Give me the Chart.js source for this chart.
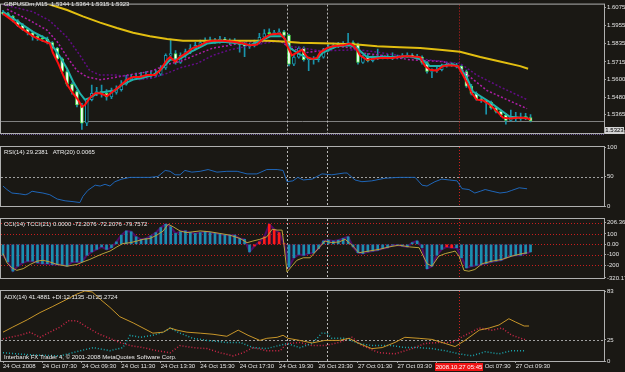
<!DOCTYPE html>
<html><head><meta charset="utf-8">
<script src="https://cdn.jsdelivr.net/npm/chart.js@4"></script>
<style>
html,body{margin:0;padding:0;background:#1a1814;width:625px;height:372px;overflow:hidden;position:relative}
canvas{position:absolute;left:0;top:0}
.t{position:absolute;color:#ececec;font:6px "Liberation Sans",Arial,sans-serif;line-height:7px;white-space:pre}
</style></head><body>
<canvas id="cMain" width="625" height="372"></canvas>
<canvas id="cRsi" width="625" height="372"></canvas>
<canvas id="cCci" width="625" height="372"></canvas>
<canvas id="cAdx" width="625" height="372"></canvas>
<div class="t" style="left:4px;top:1px">GBPUSDm,M15  1.5344 1.5364 1.5315 1.5323</div>
<div class="t" style="left:4px;top:149px">RSI(14) 29.2381   ATR(20) 0.0065</div>
<div class="t" style="left:4px;top:221px">CCI(14) TCCI(21) 0.0000 -72.2076 -72.2076 -79.7572</div>
<div class="t" style="left:4px;top:294px">ADX(14) 41.4881 +DI:12.1135 -DI:25.2724</div>
<div class="t" style="left:4px;top:354px">Interbank FX Trader 4, © 2001-2008 MetaQuotes Software Corp.</div>
<div class="t" style="left:605px;top:127px;width:19px;height:7px;background:#d4d4d4;color:#000;text-align:center">1.5323</div>
<div class="t" style="left:435px;top:363px;width:48px;height:8px;background:#f01414;color:#fff;text-align:center;line-height:8px">2008.10.27 05:45</div>
<script>
// ---------- x axis (bar index) ----------
const tickBars = [0,8,16,24,32,40,48,56,64,72,80,88,96,104];
const tickLabels = ['24 Oct 2008','24 Oct 07:30','24 Oct 09:30','24 Oct 11:30','24 Oct 13:30','24 Oct 15:30','24 Oct 17:30','24 Oct 19:30','26 Oct 23:30','27 Oct 01:30','27 Oct 03:30','27 Oct 05:30','27 Oct 07:30','27 Oct 09:30'];
const daySeparators = [57.6, 65.7];
const cursorBar = [92.5];

// ---------- candles GBPUSD M15 ----------
const openP = [1.6045,1.6036,1.6018,1.5988,1.5958,1.5933,1.5909,1.5885,1.5867,1.5867,
1.5843,1.5807,1.5735,1.5651,1.5566,1.5518,1.5428,1.5308,1.5464,1.5506,
1.5518,1.5506,1.5482,1.5512,1.5530,1.5566,1.5597,1.5609,1.5621,1.5615,
1.5627,1.5627,1.5633,1.5675,1.5759,1.5771,1.5711,1.5759,1.5783,1.5807,
1.5825,1.5843,1.5855,1.5861,1.5849,1.5867,1.5855,1.5843,1.5849,1.5831,
1.5819,1.5825,1.5843,1.5879,1.5903,1.5903,1.5909,1.5915,1.5891,1.5699,
1.5747,1.5807,1.5729,1.5735,1.5729,1.5747,1.5795,1.5813,1.5825,1.5825,
1.5831,1.5843,1.5831,1.5711,1.5747,1.5723,1.5741,1.5741,1.5747,1.5747,
1.5741,1.5747,1.5753,1.5759,1.5753,1.5747,1.5711,1.5651,1.5657,1.5663,
1.5687,1.5699,1.5693,1.5687,1.5651,1.5554,1.5506,1.5470,1.5458,1.5446,
1.5410,1.5386,1.5362,1.5326,1.5350,1.5338,1.5344,1.5344];
const highP = [1.6058,1.6044,1.6025,1.5996,1.5970,1.5940,1.5915,1.5898,1.5890,1.5880,
1.5850,1.5812,1.5742,1.5660,1.5575,1.5525,1.5440,1.5470,1.5560,1.5545,
1.5560,1.5530,1.5540,1.5555,1.5590,1.5625,1.5630,1.5640,1.5645,1.5650,
1.5655,1.5660,1.5690,1.5768,1.5867,1.5790,1.5775,1.5800,1.5830,1.5845,
1.5860,1.5875,1.5880,1.5872,1.5885,1.5878,1.5868,1.5870,1.5858,1.5845,
1.5840,1.5860,1.5905,1.5930,1.5935,1.5925,1.5935,1.5925,1.5900,1.5760,
1.5815,1.5815,1.5745,1.5750,1.5760,1.5805,1.5830,1.5840,1.5845,1.5850,
1.5905,1.5855,1.5840,1.5760,1.5770,1.5755,1.5800,1.5760,1.5765,1.5775,
1.5760,1.5770,1.5775,1.5770,1.5765,1.5755,1.5718,1.5668,1.5680,1.5700,
1.5712,1.5710,1.5705,1.5695,1.5660,1.5565,1.5515,1.5480,1.5465,1.5455,
1.5420,1.5395,1.5372,1.5395,1.5380,1.5375,1.5372,1.5364];
const lowP = [1.6028,1.6010,1.5980,1.5950,1.5925,1.5895,1.5860,1.5858,1.5850,1.5835,
1.5795,1.5725,1.5640,1.5555,1.5500,1.5415,1.5266,1.5290,1.5455,1.5490,
1.5480,1.5460,1.5470,1.5500,1.5520,1.5560,1.5590,1.5598,1.5600,1.5610,
1.5605,1.5615,1.5625,1.5665,1.5745,1.5700,1.5705,1.5745,1.5770,1.5795,
1.5815,1.5835,1.5845,1.5838,1.5840,1.5845,1.5830,1.5835,1.5780,1.5750,
1.5805,1.5815,1.5835,1.5870,1.5890,1.5895,1.5900,1.5880,1.5688,1.5690,
1.5740,1.5720,1.5657,1.5700,1.5715,1.5740,1.5785,1.5805,1.5810,1.5815,
1.5825,1.5820,1.5700,1.5705,1.5715,1.5715,1.5730,1.5735,1.5735,1.5730,
1.5735,1.5740,1.5745,1.5742,1.5735,1.5700,1.5640,1.5610,1.5645,1.5655,
1.5680,1.5685,1.5675,1.5640,1.5545,1.5495,1.5460,1.5445,1.5368,1.5400,
1.5375,1.5350,1.5300,1.5320,1.5318,1.5325,1.5330,1.5315];
const closeP = [1.6036,1.6018,1.5988,1.5958,1.5933,1.5909,1.5885,1.5867,1.5867,1.5843,
1.5807,1.5735,1.5651,1.5566,1.5518,1.5428,1.5308,1.5464,1.5506,1.5518,
1.5506,1.5482,1.5512,1.5530,1.5566,1.5597,1.5609,1.5621,1.5615,1.5627,
1.5627,1.5633,1.5675,1.5759,1.5771,1.5711,1.5759,1.5783,1.5807,1.5825,
1.5843,1.5855,1.5861,1.5849,1.5867,1.5855,1.5843,1.5849,1.5831,1.5819,
1.5825,1.5843,1.5879,1.5903,1.5903,1.5909,1.5915,1.5891,1.5699,1.5747,
1.5807,1.5729,1.5735,1.5729,1.5747,1.5795,1.5813,1.5825,1.5825,1.5831,
1.5843,1.5831,1.5711,1.5747,1.5723,1.5741,1.5741,1.5747,1.5747,1.5741,
1.5747,1.5753,1.5759,1.5753,1.5747,1.5711,1.5651,1.5657,1.5663,1.5687,
1.5699,1.5693,1.5687,1.5651,1.5554,1.5506,1.5470,1.5458,1.5446,1.5410,
1.5386,1.5362,1.5326,1.5350,1.5338,1.5344,1.5344,1.5323];
const bidPrice = [1.5323];
const priceTicks = [1.6075,1.5955,1.5835,1.5715,1.5600,1.5480,1.5365,1.5246];

// ---------- moving averages on price ----------
const fastMaBars = [0,2,3.4,6.1,8.1,9.5,10.1,11.2,12.2,13.2,14.2,15.2,16,16.6,17.6,18.7,19.7,21.1,22.3,23.7,25.2,26.4,27.8,29.2,30.8,31.8,33.3,33.9,34.9,35.9,37.3,38.5,40,41.4,42.6,44.6,46.7,48.7,50.1,51.5,52.7,54.2,56.2,57.2,57.6,58.6,59.6,60.6,61.7,62.7,63.7,64.3,65.7,66.9,69,70.4,71,71.8,72.4,73.8,75.1,76.5,79.1,81.1,82.6,84.6,85.6,86.6,88,89.2,90.7,92.3,93.1,94.1,95.1,96.1,97.4,98.8,100.2,101.4,102.8,104.3,105.5,106.5,107];
const fastMaValues = [1.6036,1.5988,1.5946,1.5885,1.5855,1.5837,1.5777,1.5705,1.5627,1.5554,1.5506,1.5464,1.5416,1.5428,1.5476,1.5506,1.5506,1.5488,1.5518,1.5554,1.5597,1.5615,1.5615,1.5627,1.5627,1.5657,1.5729,1.5747,1.5717,1.5747,1.5777,1.5807,1.5825,1.5849,1.5855,1.5855,1.5849,1.5837,1.5825,1.5831,1.5867,1.5897,1.5903,1.5867,1.5825,1.5759,1.5777,1.5795,1.5747,1.5735,1.5741,1.5777,1.5807,1.5819,1.5825,1.5837,1.5825,1.5795,1.5759,1.5729,1.5735,1.5741,1.5741,1.5753,1.5753,1.5747,1.5687,1.5663,1.5657,1.5687,1.5693,1.5687,1.5639,1.5578,1.5506,1.5464,1.5458,1.5428,1.5386,1.5344,1.5338,1.5344,1.5344,1.5338,1.5332];
const midMaBars = [0,2.8,6.1,8.9,10.1,11.6,13,14.2,15.6,16.6,17.6,19.1,21.1,22.7,24.3,26.4,28.4,30.4,31.8,33.9,35.9,38.5,41.4,44.6,48.1,50.1,52.1,54.2,56.8,58.2,60.2,62.3,63.7,64.9,67.7,70.4,71.8,73.8,75.1,79.1,82.6,85,86.6,88.6,91.3,92.7,94.1,95.3,96.8,98.8,100.8,102.8,104.9,106.5];
const midMaValues = [1.6048,1.5988,1.5915,1.5867,1.5819,1.5747,1.5669,1.5585,1.5506,1.5464,1.5476,1.5506,1.5518,1.5524,1.5566,1.5597,1.5609,1.5627,1.5657,1.5729,1.5735,1.5789,1.5837,1.5849,1.5837,1.5825,1.5855,1.5885,1.5885,1.5807,1.5765,1.5735,1.5735,1.5777,1.5819,1.5825,1.5807,1.5747,1.5747,1.5747,1.5753,1.5729,1.5687,1.5687,1.5699,1.5675,1.5609,1.5518,1.5488,1.5446,1.5398,1.5350,1.5344,1.5344];
const slowMaBars = [0,9.5,13,16.2,19.7,23.1,26.4,29.8,33.3,36.5,40,46.7,53.6,57.6,60.2,66.9,71.8,75.9,80.5,84.6,88.6,92.7,96.8,100.8,104.9,106.5];
const slowMaValues = [1.6210,1.6096,1.6060,1.6018,1.5976,1.5940,1.5909,1.5885,1.5867,1.5855,1.5855,1.5855,1.5855,1.5849,1.5843,1.5837,1.5831,1.5819,1.5813,1.5807,1.5795,1.5783,1.5747,1.5717,1.5687,1.5669];
const ma2Bars = [0.8,4.9,8.9,11,13,15,17,19.7,22.3,25.2,27.8,30.4,33.3,35.9,39.4,42.6,46,49.5,52.7,56.2,58.2,61.7,64.3,67.7,71,72.4,76.5,82.6,89.3,92.7,94.7,98.2,102.2,106.3];
const ma2Values = [1.6066,1.6000,1.5927,1.5849,1.5747,1.5657,1.5615,1.5597,1.5609,1.5627,1.5639,1.5657,1.5699,1.5717,1.5765,1.5807,1.5825,1.5849,1.5849,1.5855,1.5807,1.5777,1.5789,1.5819,1.5807,1.5777,1.5759,1.5729,1.5717,1.5675,1.5615,1.5524,1.5464,1.5404];
const ma3Bars = [0,6.1,9.5,13,15.6,17.6,19.7,23.1,25.2,27.8,30.4,33.3,35.9,39.4,42.6,46,49.5,52.7,56.2,58.2,64.3,72.4,76.5,84.6,92.7,96.1,100.8,106.3];
const ma3Values = [1.6096,1.6048,1.5988,1.5879,1.5759,1.5657,1.5627,1.5627,1.5615,1.5597,1.5609,1.5639,1.5675,1.5705,1.5759,1.5795,1.5819,1.5837,1.5855,1.5819,1.5789,1.5795,1.5777,1.5735,1.5705,1.5627,1.5549,1.5464];

// ---------- RSI ----------
const rsiBars = [0,0.8,1.8,3.4,4.5,5.1,5.9,6.9,8.1,9.5,11,12.6,14.2,15.6,16.2,17.2,18.7,19.7,20.7,21.7,22.7,24.1,25.8,27.8,29.8,31.4,32.9,33.9,34.9,35.9,36.9,38.3,40,41.6,43.4,45.4,47.5,49.5,51.5,53.5,55.6,56.8,57.6,58.8,59.8,60.9,62.7,64.7,66.7,69.2,69.8,71.4,72.8,74.8,77.5,80.3,82.4,83.6,85,86,87.6,89,90.5,92.1,93.1,94.5,95.7,96.8,97.8,99.2,100.8,102.2,103.2,104.7,106.3];
const rsiValues = [33.8,27.9,22,20.6,19.1,20.6,25,23.5,22,19.1,11.8,8.8,7.4,5.9,16.2,26.5,35.3,33.8,36.8,33.8,41.2,45.6,48.5,48.5,48.5,50,60.3,58.8,52.9,52.9,60.3,57.4,58.8,61.8,57.4,58.8,58.8,54.4,54.4,61.8,61.8,60.3,41.2,42.6,48.5,44.1,45.6,54.4,52.9,55.9,55.9,44.1,41.2,42.6,47.1,48.5,48.5,48.5,35.3,33.8,41.2,45.6,44.1,42.6,29.4,27.9,22,25,27.9,25,22,23.5,26.5,30.9,29.2];
const rsiLevels = [50];
const rsiTicks = [100,50,0];

// ---------- CCI ----------
const cciHist = [-104,-168,-256,-208,-176,-160,-160,-176,-184,-184,
-192,-192,-192,-208,-168,-168,-168,-104,-72,-48,
-24,-48,-32,24,88,128,120,72,48,56,
80,112,160,192,168,104,120,128,112,104,
112,120,112,104,96,88,88,88,56,48,
-72,-16,24,72,192,144,112,8,-216,-128,
-96,-104,-88,-80,-40,32,40,32,40,56,
72,-24,-80,-88,-72,-64,-56,-40,-32,-8,
-8,-16,-24,16,32,-32,-232,-208,-104,-48,
-24,-32,-32,-128,-224,-208,-200,-192,-184,-168,
-160,-152,-128,-112,-104,-104,-88,-72];
const cciRedBars = [51,52,53,54,55,56,57,90,91];
const tcciBars = [0,0.8,1.8,2.8,4.1,5.5,6.9,8.1,9.5,11,13,15,16.2,17.6,19.1,20.3,21.7,23.1,24.3,25.8,27.2,28.4,29.8,31.2,32.5,33.5,34.5,35.9,37.3,38.5,40,42,44,46,48.1,49.5,50.7,52.1,53.5,54.6,55.6,56.6,57,57.6,58.6,59.6,60.9,62.3,64.1,65.3,66.7,68.2,69.4,70.8,72.2,74.2,76.3,78.3,80.3,82.4,84.4,85,86,87,88.4,89.7,91.1,91.7,92.5,93.5,94.5,95.7,97.2,99.2,101.2,103.2,105.3,106.3];
const tcciValues = [-88,-176,-224,-248,-232,-192,-160,-152,-168,-192,-208,-192,-168,-144,-112,-88,-64,-24,8,16,32,48,56,88,128,192,168,128,112,120,128,120,104,88,56,16,32,48,72,144,136,136,-8,-264,-208,-152,-128,-128,-32,32,16,24,48,-8,-80,-64,-48,-24,-8,-24,-32,-88,-184,-208,-112,-88,-72,-64,-112,-248,-256,-240,-184,-160,-144,-112,-88,-80];
const cciLevels = [200,100,0,-100,-200];
const cciTicks = [206.3693,100,0,-100,-200,-320.174];
const cciTickText = ['206.3693','100','0.00','-100','-200','-320.174'];

// ---------- ADX ----------
const adxBars = [0,2,4.9,7.5,10.1,13,15,16.6,18.1,19.7,21.7,23.7,26.4,28.4,30.4,32.5,33.9,35.3,37.3,40,42.6,45.4,47.7,49.7,52.1,53.5,55.6,56.8,57.8,60.2,62.7,65.3,68.2,70.2,72.2,74.8,76.9,79.5,81.5,84.4,87,89.7,91.7,93.7,96.6,98.6,100.6,102.6,103.9,105.7,106.7];
const adxValues = [34.2,40.3,48.8,57.4,64.7,73.3,79.4,83,81.8,73.3,63.5,52.5,45.2,39.1,33,34.2,39.1,36.6,34.2,33,31.7,29.3,36.6,30.5,24.4,26.9,28.1,30.5,26.9,24.4,21.4,24.4,24.4,26.9,20.8,14.7,15.9,22,28.1,26.9,25.6,20.8,17.1,24.4,36.6,39.1,42.7,50.1,46.4,41.5,41.5];
const plusDiBars = [0,5.5,11.6,18.3,21.7,24.3,25.8,27.8,30.4,32.5,33.9,35.9,38.5,41.4,45.4,48.1,50.7,53.5,57.6,60.2,62.7,64.7,65.7,66.7,69.4,72.2,74.8,78.9,81.5,84.4,87,89.7,92.5,95.1,97.8,100.6,103.2,105.9];
const plusDiValues = [9.8,7.3,6.1,15.9,12.2,15.9,30.5,28.1,30.5,34.2,39.1,33,26.9,24.4,22,22,15.9,14.7,20.8,15.9,20.8,33,33,26.9,26.9,20.8,18.3,18.3,15.9,15.9,14.7,12.2,8.5,6.1,11,8.5,12.2,12.1];
const minusDiBars = [0,1.4,3.4,5.5,7.5,9.5,11.6,13.2,15,17,19.1,21.1,23.7,25.8,28.4,31.2,33.9,35.9,38.5,41.4,44,46.7,48.7,50.7,53.5,56.2,57.6,60.2,62.7,65.3,68.2,70.8,72.8,76.3,79.5,83,85.6,88.4,91.1,93.7,96.6,99.2,101.2,103.2,105.9];
const minusDiValues = [26,28.1,30.5,34.2,28.1,34.2,40.3,47.6,47.6,40.3,33,28.1,22,18.3,15.9,12.2,9.8,18.3,15.9,14.7,9.8,6.1,9.8,15.9,12.2,12.2,20.8,22,18.3,18.3,22,28.1,18.3,9.8,8.5,14.7,20.8,22,22,30.5,39.1,36.6,39.1,30.5,25.3];
const adxLevels = [25];
const adxTicks = [83,25,0];

// ================= drawing =================
const FONT = {family: '"Liberation Sans", Arial, sans-serif', size: 6};
const X_MIN = -0.406, X_MAX = 121.9;
const pts = (xs, ys) => xs.map((x, i) => ({x, y: ys[i]}));

const overlay = {
  id: 'overlay',
  beforeDatasetsDraw(chart, args, o) {
    const {ctx, chartArea: a} = chart;
    const x = chart.scales.x, y = chart.scales.y;
    ctx.save();
    ctx.beginPath(); ctx.rect(a.left, a.top, a.right - a.left, a.bottom - a.top); ctx.clip();
    ctx.lineWidth = 1;
    (o.h || []).forEach(l => l.values.forEach(v => {
      const py = Math.round(y.getPixelForValue(v)) + 0.5;
      ctx.strokeStyle = l.color; ctx.setLineDash(l.dash);
      ctx.beginPath(); ctx.moveTo(a.left, py); ctx.lineTo(a.right, py); ctx.stroke();
    }));
    (o.v || []).forEach(l => l.values.forEach(v => {
      const px = Math.round(x.getPixelForValue(v)) + 0.5;
      ctx.strokeStyle = l.color; ctx.setLineDash(l.dash);
      ctx.beginPath(); ctx.moveTo(px, a.top); ctx.lineTo(px, a.bottom); ctx.stroke();
    }));
    ctx.restore();
  },
  afterDraw(chart, args, o) {
    const {ctx, chartArea: a} = chart;
    ctx.save();
    ctx.strokeStyle = '#b0b0b0'; ctx.lineWidth = 1; ctx.setLineDash([]);
    ctx.strokeRect(a.left - 0.5, a.top - 0.5, a.right - a.left + 1, a.bottom - a.top + 1);
    if (o.sep) {
      ctx.strokeStyle = '#6e5c98'; ctx.setLineDash([1, 1]);
      ctx.beginPath(); ctx.moveTo(a.left, a.bottom + 1.5); ctx.lineTo(a.right, a.bottom + 1.5); ctx.stroke();
    }
    ctx.restore();
  }
};

function xScale(show) {
  return {
    type: 'linear', min: X_MIN, max: X_MAX, display: show, offset: false,
    afterBuildTicks: s => { s.ticks = tickBars.map(v => ({value: v})); },
    afterFit: s => { s.height = 11; },
    grid: {display: show, drawOnChartArea: false, drawTicks: true, tickLength: 2, color: '#a0a0a0'},
    border: {display: false},
    ticks: {autoSkip: false, maxRotation: 0, minRotation: 0, align: 'start', padding: 0,
      color: '#e4e4e4', font: FONT, callback: (v, i) => tickLabels[i]}
  };
}
function yScale(min, max, vals, labels) {
  return {
    position: 'right', min, max,
    afterBuildTicks: s => { s.ticks = vals.map(v => ({value: v})); },
    afterFit: s => { s.width = 21; },
    grid: {drawOnChartArea: false, drawTicks: true, tickLength: 2, color: '#a0a0a0'},
    border: {display: true, color: '#b0b0b0', width: 1},
    ticks: {autoSkip: false, padding: 1, color: '#e4e4e4', font: FONT, callback: (v, i) => labels[i]}
  };
}
function opts(top, bottom, showX, yS, ov) {
  return {
    responsive: false, animation: false, events: [],
    layout: {autoPadding: false, padding: {top, bottom: showX ? 0 : 372 - bottom, left: 1, right: 0}},
    scales: {x: xScale(showX), y: yS},
    plugins: {legend: {display: false}, tooltip: {enabled: false}, overlay: ov}
  };
}
const vLineSet = [
  {values: daySeparators, color: '#b8b8b8', dash: [2, 2]},
  {values: cursorBar, color: '#d02020', dash: [1, 2]}
];
const line = (data, color, width, dash, order) => ({
  type: 'line', data, borderColor: color, borderWidth: width, borderDash: dash || [],
  pointRadius: 0, tension: 0, fill: false, order
});

// ---- main price panel ----
const wickData = closeP.map((c, i) => ({x: i, y: [lowP[i], highP[i]]}));
const bodyData = closeP.map((c, i) => ({x: i, y: [Math.min(openP[i], c), Math.max(openP[i], c)]}));
const bodyFill = closeP.map((c, i) => c < openP[i] ? '#ffffff' : (c > openP[i] ? '#101010' : '#40ff40'));
const bodyEdge = closeP.map((c, i) => c < openP[i] ? '#50e050' : (c > openP[i] ? '#1a94ac' : '#40ff40'));

new Chart(document.getElementById('cMain'), {
  type: 'bar',
  data: {datasets: [
    {type: 'bar', data: wickData, barThickness: 1, backgroundColor: '#1a94ac', borderWidth: 0, grouped: false, order: 9},
    {type: 'bar', data: bodyData, barThickness: 3, backgroundColor: bodyFill, borderColor: bodyEdge, borderWidth: 1,
     borderSkipped: false, minBarLength: 1, grouped: false, order: 8},
    line(pts(slowMaBars, slowMaValues), '#e2be10', 2, null, 5),
    line(pts(ma3Bars, ma3Values), '#620c86', 1.5, [2, 2], 6),
    line(pts(ma2Bars, ma2Values), '#b01ea8', 1.5, [2, 2], 6),
    line(pts(midMaBars, midMaValues), '#20b2aa', 2, null, 3),
    line(pts(fastMaBars, fastMaValues), '#ff1010', 2, null, 2)
  ]},
  options: opts(2, 144, false, yScale(1.5242, 1.6096, priceTicks, priceTicks.map(v => v.toFixed(4))),
    {h: [{values: bidPrice, color: '#808080', dash: []}], v: vLineSet, sep: true})
  ,plugins: [overlay]
});

// ---- RSI panel ----
new Chart(document.getElementById('cRsi'), {
  type: 'line',
  data: {datasets: [line(pts(rsiBars, rsiValues), '#1f66b8', 1, null, 1)]},
  options: opts(147, 217, false, yScale(0, 100, rsiTicks, rsiTicks.map(String)),
    {h: [{values: rsiLevels, color: '#a0a0a0', dash: [2, 2]}], v: vLineSet}),
  plugins: [overlay]
});

// ---- CCI panel ----
const cciData = cciHist.map((v, i) => ({x: i, y: v}));
const cciColors = cciHist.map((v, i) => cciRedBars.includes(i) ? '#ff1a1a' : '#1a8fb0');
new Chart(document.getElementById('cCci'), {
  type: 'bar',
  data: {datasets: [
    {type: 'line', data: cciData, borderColor: '#4e0c66', borderWidth: 2, pointRadius: 0, tension: 0,
     fill: 'origin', backgroundColor: 'rgba(70,10,92,0.35)', order: 9},
    {type: 'bar', data: cciData, barThickness: 2, backgroundColor: cciColors, borderWidth: 0, grouped: false, order: 5},
    line(pts(tcciBars, tcciValues), '#b8a23c', 1, null, 1)
  ]},
  options: opts(219, 289, false, yScale(-321, 242, cciTicks, cciTickText),
    {h: [{values: cciLevels, color: '#c81e1e', dash: [1, 2]}], v: vLineSet}),
  plugins: [overlay]
});

// ---- ADX panel ----
new Chart(document.getElementById('cAdx'), {
  type: 'line',
  data: {datasets: [
    line(pts(minusDiBars, minusDiValues), '#d0284a', 1.5, [1, 2], 3),
    line(pts(plusDiBars, plusDiValues), '#1aa8b0', 1.5, [1, 2], 2),
    line(pts(adxBars, adxValues), '#c8962a', 1, null, 1)
  ]},
  options: opts(291, 361, true, yScale(0, 83, adxTicks, adxTicks.map(String)),
    {h: [{values: adxLevels, color: '#a0a0a0', dash: [2, 2]}], v: vLineSet}),
  plugins: [overlay]
});
</script>
</body></html>
